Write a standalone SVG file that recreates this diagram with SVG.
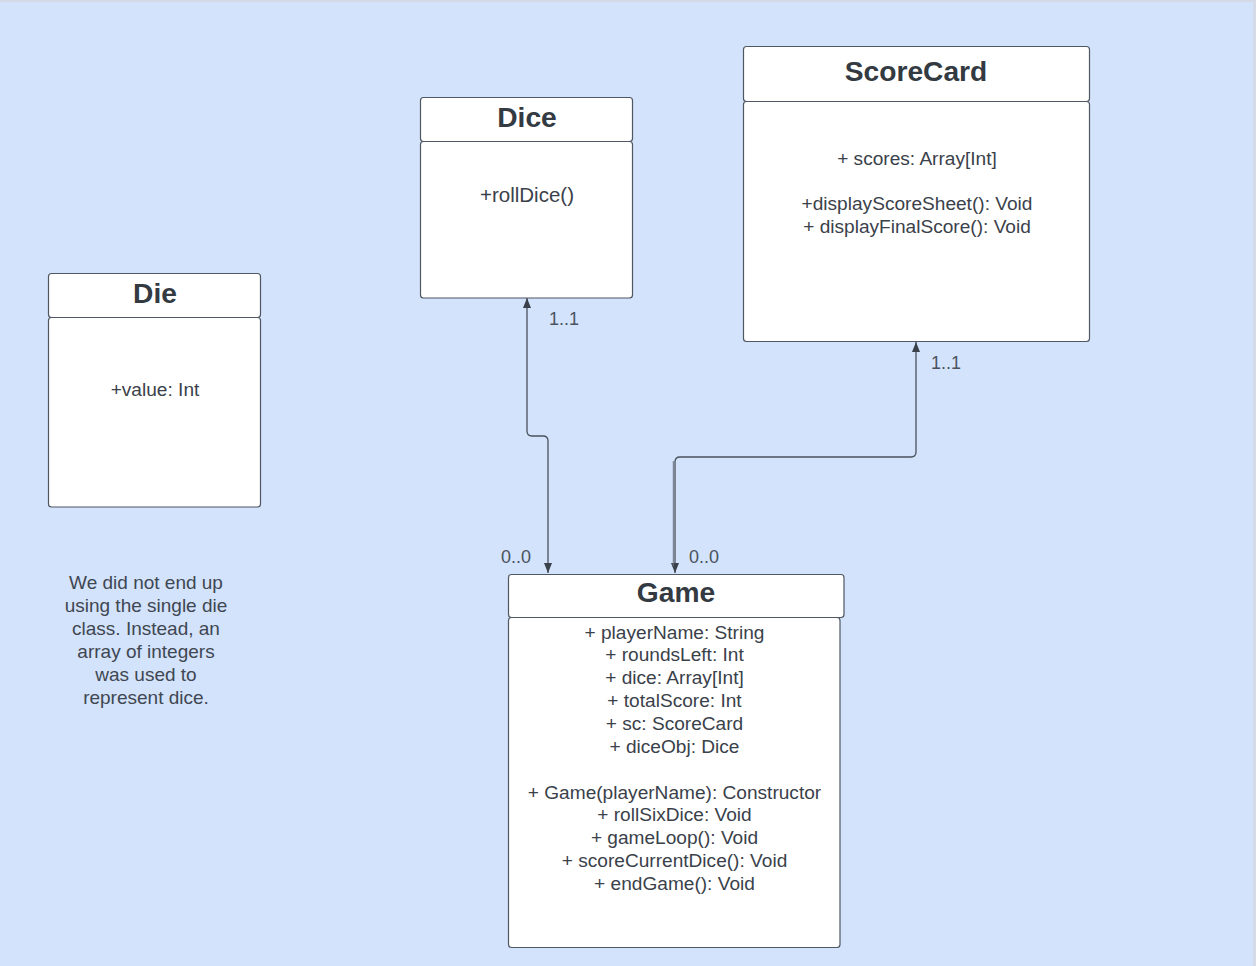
<svg xmlns="http://www.w3.org/2000/svg" width="1256" height="966" viewBox="0 0 1256 966">
<defs>
<style>
.bg{fill:#d3e3fb}
.box{fill:#ffffff;stroke:#4f5762;stroke-width:1.2}
.title{font-family:"Liberation Sans",Arial,sans-serif;font-weight:bold;font-size:28.2px;fill:#333a42;text-anchor:middle}
.t{font-family:"Liberation Sans",Arial,sans-serif;font-size:19.1px;fill:#3a414a;text-anchor:middle}
.lbl{font-family:"Liberation Sans",Arial,sans-serif;font-size:18px;fill:#4a5260;text-anchor:middle}
.note{font-family:"Liberation Sans",Arial,sans-serif;font-size:19px;fill:#3f4752;text-anchor:middle}
.conn{fill:none;stroke:#4a525d;stroke-width:1.3}
</style>
<marker id="arr" viewBox="0 0 10 10" refX="10" refY="5" markerWidth="10" markerHeight="10" markerUnits="userSpaceOnUse" orient="auto-start-reverse">
<path d="M0,1 L10,5 L0,9 Z" fill="#3a414a"/>
</marker>
</defs>
<rect class="bg" x="0" y="0" width="1256" height="966"/>
<rect x="0" y="0" width="1256" height="2" fill="#d4dbe6"/>
<rect x="1253" y="0" width="3" height="966" fill="#d4dbe6"/>

<g id="connectors">
<path class="conn" d="M527,298 V431 Q527,436 532,436 H543 Q548,436 548,441 V573" marker-start="url(#arr)" marker-end="url(#arr)"/>
<path class="conn" d="M916,342 V452 Q916,457 911,457 H680 Q675,457 675,462 V573" marker-start="url(#arr)" marker-end="url(#arr)"/>
<line x1="673.3" y1="461" x2="673.3" y2="566" stroke="#6a7380" stroke-width="1"/>
<text class="lbl" x="564" y="324.5">1..1</text>
<text class="lbl" x="516" y="562.5">0..0</text>
<text class="lbl" x="946" y="368.5">1..1</text>
<text class="lbl" x="704" y="562.5">0..0</text>
</g>

<g id="dice">
<rect class="box" x="420.5" y="141.5" width="212" height="156.5" rx="3"/>
<rect class="box" x="420.5" y="97.5" width="212" height="44" rx="3"/>
<text class="title" x="527" y="127">Dice</text>
<text class="t" x="527" y="202" style="font-size:20.5px">+rollDice()</text>
</g>

<g id="scorecard">
<rect class="box" x="743.5" y="101.5" width="346" height="240" rx="3"/>
<rect class="box" x="743.5" y="46.5" width="346" height="55" rx="3"/>
<text class="title" x="916" y="81">ScoreCard</text>
<text class="t" x="917" y="164.5">+ scores: Array[Int]</text>
<text class="t" x="917" y="209.5">+displayScoreSheet(): Void</text>
<text class="t" x="917" y="232.5">+ displayFinalScore(): Void</text>
</g>

<g id="die">
<rect class="box" x="48.5" y="317.5" width="212" height="189.5" rx="3"/>
<rect class="box" x="48.5" y="273.5" width="212" height="44" rx="3"/>
<text class="title" x="155" y="303">Die</text>
<text class="t" x="155" y="395.5">+value: Int</text>
</g>

<g id="game">
<rect class="box" x="508.5" y="617.5" width="331.5" height="330" rx="3"/>
<rect class="box" x="508.5" y="574.5" width="335.5" height="43" rx="3"/>
<text class="title" x="676" y="602">Game</text>
<text class="t" x="674.5" y="638.5">+ playerName: String</text>
<text class="t" x="674.5" y="661">+ roundsLeft: Int</text>
<text class="t" x="674.5" y="684">+ dice: Array[Int]</text>
<text class="t" x="674.5" y="707">+ totalScore: Int</text>
<text class="t" x="674.5" y="729.5">+ sc: ScoreCard</text>
<text class="t" x="674.5" y="752.5">+ diceObj: Dice</text>
<text class="t" x="674.5" y="798.5">+ Game(playerName): Constructor</text>
<text class="t" x="674.5" y="821">+ rollSixDice: Void</text>
<text class="t" x="674.5" y="843.5">+ gameLoop(): Void</text>
<text class="t" x="674.5" y="866.5">+ scoreCurrentDice(): Void</text>
<text class="t" x="674.5" y="889.5">+ endGame(): Void</text>
</g>

<g id="note">
<text class="note" x="146" y="588.5">We did not end up</text>
<text class="note" x="146" y="611.5">using the single die</text>
<text class="note" x="146" y="634.5">class. Instead, an</text>
<text class="note" x="146" y="657.5">array of integers</text>
<text class="note" x="146" y="680.5">was used to</text>
<text class="note" x="146" y="703.5">represent dice.</text>
</g>
</svg>
